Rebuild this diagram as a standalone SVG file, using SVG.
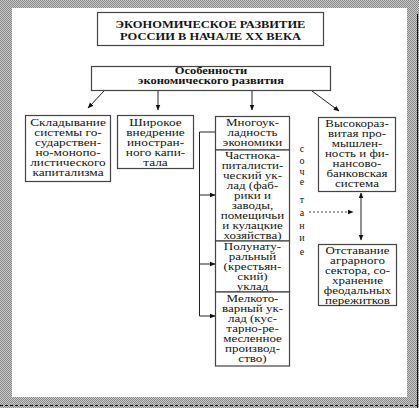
<svg xmlns="http://www.w3.org/2000/svg" width="419" height="408" viewBox="0 0 419 408">
<defs>
<marker id="ah" viewBox="0 0 10 10" refX="9" refY="5" markerWidth="6" markerHeight="6" orient="auto-start-reverse" markerUnits="userSpaceOnUse">
<path d="M0,1 L10,5 L0,9 z" fill="#111"/>
</marker>
<pattern id="halftone" width="2" height="2" patternUnits="userSpaceOnUse">
<rect width="2" height="2" fill="#c8c8c8"/>
<rect width="1" height="1" fill="#8a8a8a"/>
<rect x="1" y="1" width="1" height="1" fill="#8a8a8a"/>
</pattern>
</defs>
<style>
.box{fill:#fff;stroke:#444;stroke-width:1.2}
.t{font-family:"Liberation Serif","Times New Roman",serif;font-size:10px;fill:#151515;text-anchor:middle}
.b{font-weight:bold}
.ln{stroke:#222;stroke-width:1;fill:none}
.dash{stroke:#444;stroke-width:1;stroke-dasharray:2 2;fill:none}
</style>
<rect x="0" y="0" width="419" height="408" fill="url(#halftone)"/>
<rect x="12" y="8" width="395" height="389" fill="#fff"/>
<line x1="417.5" y1="14" x2="417.5" y2="408" stroke="#111" stroke-width="1"/>
<line x1="0" y1="405.5" x2="419" y2="405.5" stroke="#111" stroke-width="1" stroke-dasharray="3 2"/>

<g id="connectors">
<line class="ln" x1="104" y1="91" x2="88" y2="108" marker-end="url(#ah)"/>
<line class="ln" x1="158" y1="91" x2="158" y2="110" marker-end="url(#ah)"/>
<line class="ln" x1="252" y1="91" x2="252" y2="110" marker-end="url(#ah)"/>
<line class="ln" x1="312" y1="91" x2="339" y2="111" marker-end="url(#ah)"/>
<polyline class="ln" points="215,132 199.5,132 199.5,316"/>
<line class="ln" x1="199.5" y1="195" x2="215" y2="195" marker-end="url(#ah)"/>
<line class="ln" x1="199.5" y1="264" x2="215" y2="264" marker-end="url(#ah)"/>
<line class="ln" x1="199.5" y1="316" x2="215" y2="316" marker-end="url(#ah)"/>
<line class="dash" x1="309" y1="212" x2="353" y2="212" marker-end="url(#ah)"/>
<line class="ln" x1="361" y1="193" x2="361" y2="240" marker-start="url(#ah)" marker-end="url(#ah)"/>
</g>

<g id="title">
<rect class="box" x="97.5" y="12.5" width="226" height="33"/>
<g transform="translate(210.5 0) scale(1.25 1)">
<text class="t b" x="0" y="28.5" font-size="10">ЭКОНОМИЧЕСКОЕ РАЗВИТИЕ</text>
<text class="t b" x="0" y="40" font-size="10">РОССИИ В НАЧАЛЕ XX ВЕКА</text>
</g>
</g>

<g id="features">
<rect class="box" x="91.5" y="66.5" width="239" height="24"/>
<g transform="translate(211 0) scale(1.25 1)">
<text class="t b" x="0" y="74">Особенности</text>
<text class="t b" x="0" y="84.5">экономического развития</text>
</g>
</g>

<g id="node-a">
<rect class="box" x="25.5" y="115.5" width="85" height="66"/>
<g transform="translate(68 0) scale(1.33 1)">
<text class="t" x="0" y="126.5">Складывание</text>
<text class="t" x="0" y="136.5">системы го-</text>
<text class="t" x="0" y="146.5">сударствен-</text>
<text class="t" x="0" y="156.5">но-монопо-</text>
<text class="t" x="0" y="166.5">листического</text>
<text class="t" x="0" y="176.5">капитализма</text>
</g>
</g>

<g id="node-b">
<rect class="box" x="117.5" y="115.5" width="76" height="53"/>
<g transform="translate(155.5 0) scale(1.33 1)">
<text class="t" x="0" y="126.5">Широкое</text>
<text class="t" x="0" y="136.5">внедрение</text>
<text class="t" x="0" y="146.5">иностран-</text>
<text class="t" x="0" y="156.5">ного капи-</text>
<text class="t" x="0" y="166.5">тала</text>
</g>
</g>

<g id="node-c">
<rect class="box" x="215.5" y="116.5" width="74" height="33.5"/>
<g transform="translate(252.5 0) scale(1.3 1)">
<text class="t" x="0" y="126.5">Многоук-</text>
<text class="t" x="0" y="136.5">ладность</text>
<text class="t" x="0" y="146.5">экономики</text>
</g>
</g>

<g id="node-c1">
<rect class="box" x="215.5" y="150" width="74" height="91"/>
<g transform="translate(252.5 0) scale(1.3 1)">
<text class="t" x="0" y="159.5">Частнока-</text>
<text class="t" x="0" y="169.5">питалисти-</text>
<text class="t" x="0" y="179.5">ческий ук-</text>
<text class="t" x="0" y="189.5">лад (фаб-</text>
<text class="t" x="0" y="199.5">рики и</text>
<text class="t" x="0" y="209.5">заводы,</text>
<text class="t" x="0" y="219.5">помещичьи</text>
<text class="t" x="0" y="229.5">и кулацкие</text>
<text class="t" x="0" y="239.5">хозяйства)</text>
</g>
</g>

<g id="node-c2">
<rect class="box" x="215.5" y="241" width="74" height="51"/>
<g transform="translate(252.5 0) scale(1.3 1)">
<text class="t" x="0" y="250.5">Полунату-</text>
<text class="t" x="0" y="260.5">ральный</text>
<text class="t" x="0" y="270.5">(крестьян-</text>
<text class="t" x="0" y="280.5">ский)</text>
<text class="t" x="0" y="290.5">уклад</text>
</g>
</g>

<g id="node-c3">
<rect class="box" x="215.5" y="292" width="74" height="74"/>
<g transform="translate(252.5 0) scale(1.3 1)">
<text class="t" x="0" y="302.5">Мелкото-</text>
<text class="t" x="0" y="312.5">варный ук-</text>
<text class="t" x="0" y="322.5">лад (кус-</text>
<text class="t" x="0" y="332.5">тарно-ре-</text>
<text class="t" x="0" y="342.5">месленное</text>
<text class="t" x="0" y="352.5">производ-</text>
<text class="t" x="0" y="362.5">ство)</text>
</g>
</g>

<g id="label-sochetanie">
<text class="t" x="302" y="151.5">с</text>
<text class="t" x="302" y="163.5">о</text>
<text class="t" x="302" y="174.5">ч</text>
<text class="t" x="302" y="184.5">е</text>
<text class="t" x="302" y="202.5">т</text>
<text class="t" x="302" y="215.5">а</text>
<text class="t" x="302" y="228.5">н</text>
<text class="t" x="302" y="240.5">и</text>
<text class="t" x="302" y="254.5">е</text>
</g>

<g id="node-d">
<rect class="box" x="318.5" y="117.5" width="77" height="74"/>
<g transform="translate(357 0) scale(1.3 1)">
<text class="t" x="0" y="127.5">Высокораз-</text>
<text class="t" x="0" y="137.5">витая про-</text>
<text class="t" x="0" y="147.5">мышлен-</text>
<text class="t" x="0" y="157.5">ность и фи-</text>
<text class="t" x="0" y="167.5">нансово-</text>
<text class="t" x="0" y="177.5">банковская</text>
<text class="t" x="0" y="187.5">система</text>
</g>
</g>

<g id="node-e">
<rect class="box" x="318.5" y="244.5" width="78" height="61"/>
<g transform="translate(357.5 0) scale(1.3 1)">
<text class="t" x="0" y="254">Отставание</text>
<text class="t" x="0" y="264">аграрного</text>
<text class="t" x="0" y="274">сектора, со-</text>
<text class="t" x="0" y="284">хранение</text>
<text class="t" x="0" y="294">феодальных</text>
<text class="t" x="0" y="304">пережитков</text>
</g>
</g>
</svg>
